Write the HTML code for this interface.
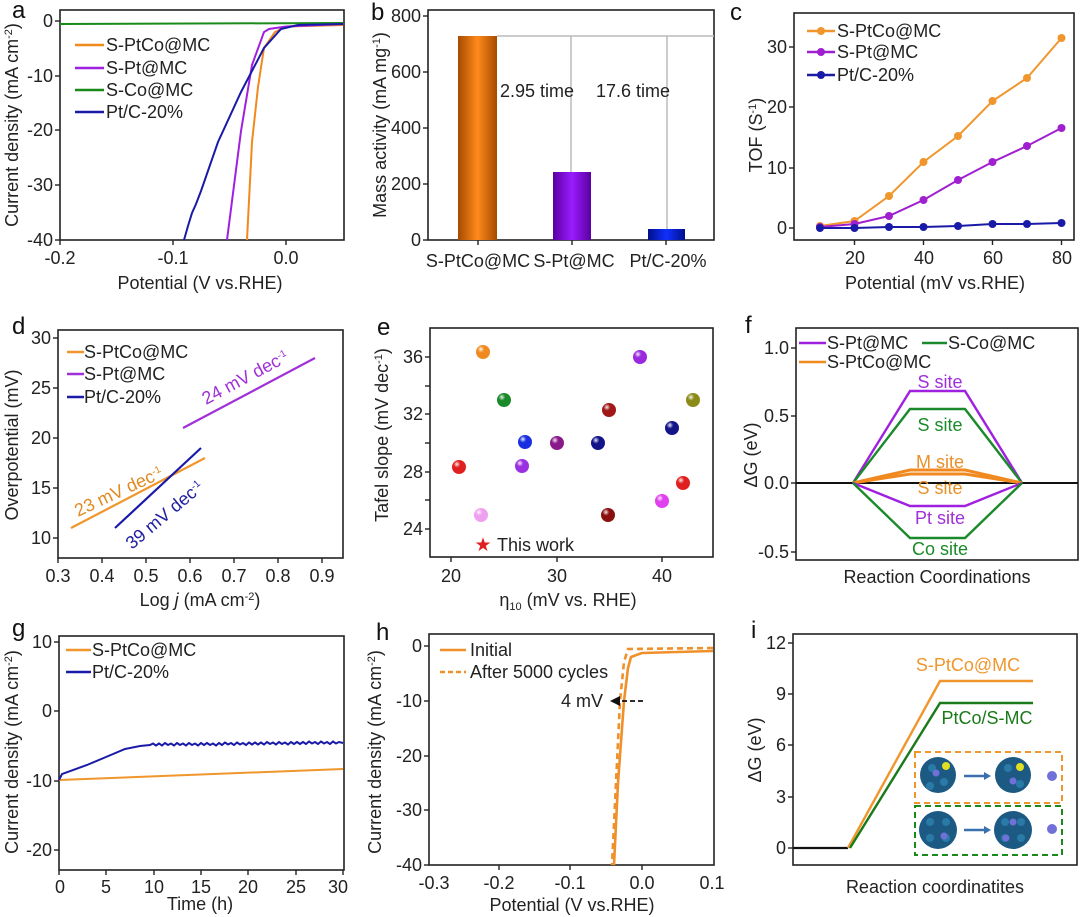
<!DOCTYPE html>
<html><head><meta charset="utf-8"><style>
html,body{margin:0;padding:0;background:#fff}
svg{display:block;font-family:"Liberation Sans",Arial,sans-serif}
.t{font-size:18px;fill:#222}
.ti{font-size:18px;fill:#222}
.lg{font-size:18px;fill:#222}
.pl{font-size:24px;fill:#111}
.ax{fill:none;stroke:#222;stroke-width:1.6}
.tk{stroke:#222;stroke-width:1.4}
</style></head><body>
<svg width="1080" height="917" viewBox="0 0 1080 917" xmlns="http://www.w3.org/2000/svg">
<defs>
<radialGradient id="sp" cx="0.35" cy="0.3" r="0.7"><stop offset="0" stop-color="#fff" stop-opacity="0.9"/><stop offset="0.35" stop-color="#fff" stop-opacity="0"/></radialGradient>
<linearGradient id="go" x1="0" x2="1"><stop offset="0" stop-color="#a54a00"/><stop offset="0.5" stop-color="#ff8a1a"/><stop offset="1" stop-color="#a54a00"/></linearGradient>
<linearGradient id="gp" x1="0" x2="1"><stop offset="0" stop-color="#5a00a0"/><stop offset="0.5" stop-color="#9a1cff"/><stop offset="1" stop-color="#5a00a0"/></linearGradient>
<linearGradient id="gb" x1="0" x2="1"><stop offset="0" stop-color="#00108a"/><stop offset="0.5" stop-color="#1030ff"/><stop offset="1" stop-color="#00108a"/></linearGradient>
</defs>

<!-- ========== a ========== -->
<text class="pl" x="12" y="18">a</text>
<rect class="ax" x="60" y="10" width="284" height="230"/>
<g class="tk"><line x1="55" y1="21" x2="60" y2="21"/><line x1="55" y1="76" x2="60" y2="76"/><line x1="55" y1="130" x2="60" y2="130"/><line x1="55" y1="185" x2="60" y2="185"/><line x1="55" y1="240" x2="60" y2="240"/>
<line x1="60" y1="240" x2="60" y2="245"/><line x1="173" y1="240" x2="173" y2="245"/><line x1="286" y1="240" x2="286" y2="245"/></g>
<g class="t" text-anchor="end"><text x="53" y="27">0</text><text x="53" y="82">-10</text><text x="53" y="136">-20</text><text x="53" y="191">-30</text><text x="53" y="246">-40</text></g>
<g class="t" text-anchor="middle"><text x="60" y="264">-0.2</text><text x="173" y="264">-0.1</text><text x="286" y="264">0.0</text></g>
<text class="ti" text-anchor="middle" x="200" y="289">Potential (V vs.RHE)</text>
<text class="ti" text-anchor="middle" transform="translate(18,125) rotate(-90)">Current density (mA cm<tspan dy="-6" font-size="11">-2</tspan><tspan dy="6">)</tspan></text>
<line x1="60" y1="24" x2="343" y2="23" stroke="#1a8a1a" stroke-width="2"/>
<polyline fill="none" stroke="#f08a1c" stroke-width="2" points="343,25 286,26.5 275,32 264,48 258,87 252,142 247,240"/>
<polyline fill="none" stroke="#a020e0" stroke-width="2" points="343,24 286,26.5 269,29 264,32 252,65 241,131 227,240"/>
<polyline fill="none" stroke="#1a1aa8" stroke-width="2" points="343,24 298,25 281,29 264,48 241,92 218,142 201,191 196,204 192,213 188,226 184,240"/>
<g stroke-width="2.5"><line x1="75" y1="45" x2="104" y2="45" stroke="#f08a1c"/><line x1="75" y1="68" x2="104" y2="68" stroke="#a020e0"/><line x1="75" y1="90" x2="104" y2="90" stroke="#1a8a1a"/><line x1="75" y1="112" x2="104" y2="112" stroke="#1a1aa8"/></g>
<g class="lg"><text x="106" y="51">S-PtCo@MC</text><text x="106" y="74">S-Pt@MC</text><text x="106" y="96">S-Co@MC</text><text x="106" y="118">Pt/C-20%</text></g>

<!-- ========== b ========== -->
<text class="pl" x="371" y="20">b</text>
<rect class="ax" x="428" y="10" width="286" height="230"/>
<g class="tk"><line x1="423" y1="16" x2="428" y2="16"/><line x1="423" y1="72" x2="428" y2="72"/><line x1="423" y1="128" x2="428" y2="128"/><line x1="423" y1="184" x2="428" y2="184"/><line x1="423" y1="240" x2="428" y2="240"/>
<line x1="478" y1="240" x2="478" y2="245"/><line x1="572" y1="240" x2="572" y2="245"/><line x1="666" y1="240" x2="666" y2="245"/></g>
<g class="t" text-anchor="end"><text x="421" y="22">800</text><text x="421" y="78">600</text><text x="421" y="134">400</text><text x="421" y="190">200</text><text x="421" y="246">0</text></g>
<g class="t" text-anchor="middle"><text x="478" y="267">S-PtCo@MC</text><text x="574" y="267">S-Pt@MC</text><text x="668" y="267">Pt/C-20%</text></g>
<text class="ti" text-anchor="middle" transform="translate(386,125) rotate(-90)">Mass activity (mA mg<tspan dy="-6" font-size="11">-1</tspan><tspan dy="6">)</tspan></text>
<g stroke="#bbb" stroke-width="1.5"><line x1="497" y1="36" x2="714" y2="36"/><line x1="571" y1="36" x2="571" y2="172"/><line x1="667" y1="36" x2="667" y2="229"/></g>
<rect x="458" y="36" width="39" height="204" fill="url(#go)"/>
<rect x="553" y="172" width="38" height="68" fill="url(#gp)"/>
<rect x="648" y="229" width="37" height="11" fill="url(#gb)"/>
<g class="t"><text x="500" y="97">2.95 time</text><text x="596" y="97">17.6 time</text></g>

<!-- ========== c ========== -->
<text class="pl" x="730" y="20">c</text>
<rect class="ax" x="794" y="13" width="280" height="227"/>
<g class="tk"><line x1="789" y1="228" x2="794" y2="228"/><line x1="789" y1="168" x2="794" y2="168"/><line x1="789" y1="107" x2="794" y2="107"/><line x1="789" y1="47" x2="794" y2="47"/>
<line x1="854.5" y1="240" x2="854.5" y2="245"/><line x1="923.5" y1="240" x2="923.5" y2="245"/><line x1="992.5" y1="240" x2="992.5" y2="245"/><line x1="1061.5" y1="240" x2="1061.5" y2="245"/></g>
<g class="t" text-anchor="end"><text x="787" y="234">0</text><text x="787" y="174">10</text><text x="787" y="113">20</text><text x="787" y="53">30</text></g>
<g class="t" text-anchor="middle"><text x="855" y="264">20</text><text x="924" y="264">40</text><text x="993" y="264">60</text><text x="1062" y="264">80</text></g>
<text class="ti" text-anchor="middle" x="935" y="289">Potential (mV vs.RHE)</text>
<text class="ti" text-anchor="middle" transform="translate(762,135) rotate(-90)">TOF (S<tspan dy="-6" font-size="11">-1</tspan><tspan dy="6">)</tspan></text>
<g fill="none" stroke-width="2">
<polyline stroke="#f0962c" points="820,226 854.5,221 889,196 923.5,162 958,136 992.5,101 1027,78 1061.5,38"/>
<polyline stroke="#a020d0" points="820,227 854.5,224 889,216 923.5,200 958,180 992.5,162 1027,146 1061.5,128"/>
<polyline stroke="#1a1aa8" points="820,228 854.5,228 889,227 923.5,227 958,226 992.5,224 1027,224 1061.5,223"/></g>
<g fill="#f0962c"><circle cx="820" cy="226" r="4"/><circle cx="854.5" cy="221" r="4"/><circle cx="889" cy="196" r="4"/><circle cx="923.5" cy="162" r="4"/><circle cx="958" cy="136" r="4"/><circle cx="992.5" cy="101" r="4"/><circle cx="1027" cy="78" r="4"/><circle cx="1061.5" cy="38" r="4"/><circle cx="821" cy="31" r="4"/></g>
<g fill="#a020d0"><circle cx="820" cy="227" r="4"/><circle cx="854.5" cy="224" r="4"/><circle cx="889" cy="216" r="4"/><circle cx="923.5" cy="200" r="4"/><circle cx="958" cy="180" r="4"/><circle cx="992.5" cy="162" r="4"/><circle cx="1027" cy="146" r="4"/><circle cx="1061.5" cy="128" r="4"/><circle cx="821" cy="52" r="4"/></g>
<g fill="#1a1aa8"><circle cx="820" cy="228" r="4"/><circle cx="854.5" cy="228" r="4"/><circle cx="889" cy="227" r="4"/><circle cx="923.5" cy="227" r="4"/><circle cx="958" cy="226" r="4"/><circle cx="992.5" cy="224" r="4"/><circle cx="1027" cy="224" r="4"/><circle cx="1061.5" cy="223" r="4"/><circle cx="821" cy="75" r="4"/></g>
<g stroke-width="2.5"><line x1="807" y1="31" x2="835" y2="31" stroke="#f0962c"/><line x1="807" y1="52" x2="835" y2="52" stroke="#a020d0"/><line x1="807" y1="75" x2="835" y2="75" stroke="#1a1aa8"/></g>
<g class="lg"><text x="837" y="37">S-PtCo@MC</text><text x="837" y="58">S-Pt@MC</text><text x="837" y="81">Pt/C-20%</text></g>

<!-- ========== d ========== -->
<text class="pl" x="12" y="334">d</text>
<rect class="ax" x="58" y="330" width="285" height="228"/>
<g class="tk"><line x1="53" y1="338" x2="58" y2="338"/><line x1="53" y1="388" x2="58" y2="388"/><line x1="53" y1="438" x2="58" y2="438"/><line x1="53" y1="488" x2="58" y2="488"/><line x1="53" y1="538" x2="58" y2="538"/>
<line x1="58" y1="558" x2="58" y2="563"/><line x1="102" y1="558" x2="102" y2="563"/><line x1="146" y1="558" x2="146" y2="563"/><line x1="190" y1="558" x2="190" y2="563"/><line x1="234" y1="558" x2="234" y2="563"/><line x1="278" y1="558" x2="278" y2="563"/><line x1="322" y1="558" x2="322" y2="563"/></g>
<g class="t" text-anchor="end"><text x="51" y="344">30</text><text x="51" y="394">25</text><text x="51" y="444">20</text><text x="51" y="494">15</text><text x="51" y="544">10</text></g>
<g class="t" text-anchor="middle"><text x="58" y="582">0.3</text><text x="102" y="582">0.4</text><text x="146" y="582">0.5</text><text x="190" y="582">0.6</text><text x="234" y="582">0.7</text><text x="278" y="582">0.8</text><text x="322" y="582">0.9</text></g>
<text class="ti" text-anchor="middle" x="200" y="606">Log <tspan font-style="italic">j</tspan> (mA cm<tspan dy="-6" font-size="11">-2</tspan><tspan dy="6">)</tspan></text>
<text class="ti" text-anchor="middle" transform="translate(18,445) rotate(-90)">Overpotential (mV)</text>
<g stroke-width="2.2"><line x1="71" y1="528" x2="205" y2="458" stroke="#f0962c"/><line x1="183" y1="428" x2="315" y2="358" stroke="#a030d8"/><line x1="115" y1="528" x2="201" y2="448" stroke="#1a1aa8"/></g>
<g stroke-width="2.5"><line x1="67" y1="352" x2="84" y2="352" stroke="#f0962c"/><line x1="67" y1="374" x2="84" y2="374" stroke="#a030d8"/><line x1="67" y1="397" x2="84" y2="397" stroke="#1a1aa8"/></g>
<g class="lg"><text x="84" y="358">S-PtCo@MC</text><text x="84" y="380">S-Pt@MC</text><text x="84" y="403">Pt/C-20%</text></g>
<text class="lg" style="fill:#a030d8" transform="translate(206,405) rotate(-28)">24 mV dec<tspan dy="-6" font-size="10">-1</tspan></text>
<text class="lg" style="fill:#e08a20" transform="translate(78,517) rotate(-25)">23 mV dec<tspan dy="-6" font-size="10">-1</tspan></text>
<text class="lg" style="fill:#2020a0" transform="translate(132,550) rotate(-40)">39 mV dec<tspan dy="-6" font-size="10">-1</tspan></text>

<!-- ========== e ========== -->
<text class="pl" x="377" y="335">e</text>
<rect class="ax" x="430" y="328" width="283" height="229"/>
<g class="tk"><line x1="425" y1="357" x2="430" y2="357"/><line x1="425" y1="386" x2="430" y2="386"/><line x1="425" y1="414" x2="430" y2="414"/><line x1="425" y1="443" x2="430" y2="443"/><line x1="425" y1="472" x2="430" y2="472"/><line x1="425" y1="500" x2="430" y2="500"/><line x1="425" y1="529" x2="430" y2="529"/>
<line x1="451" y1="557" x2="451" y2="562"/><line x1="557" y1="557" x2="557" y2="562"/><line x1="662" y1="557" x2="662" y2="562"/></g>
<g class="t" text-anchor="end"><text x="423" y="363">36</text><text x="423" y="420">32</text><text x="423" y="478">28</text><text x="423" y="535">24</text></g>
<g class="t" text-anchor="middle"><text x="451" y="582">20</text><text x="557" y="582">30</text><text x="662" y="582">40</text></g>
<text class="ti" text-anchor="middle" x="568" y="606">η<tspan dy="4" font-size="11">10</tspan><tspan dy="-4"> (mV vs. RHE)</tspan></text>
<text class="ti" text-anchor="middle" transform="translate(388,435) rotate(-90)">Tafel slope (mV dec<tspan dy="-6" font-size="11">-1</tspan><tspan dy="6">)</tspan></text>
<g>
<circle cx="483" cy="352" r="7" fill="#f08a20"/><circle cx="504" cy="400" r="7" fill="#1a8a2a"/><circle cx="525" cy="442" r="7" fill="#1a30e0"/><circle cx="557" cy="443" r="7" fill="#8a1a8a"/><circle cx="598" cy="443" r="7" fill="#14148a"/><circle cx="609" cy="410" r="7" fill="#a01818"/><circle cx="640" cy="357" r="7" fill="#9a2ae0"/><circle cx="693" cy="400" r="7" fill="#8a8a18"/><circle cx="672" cy="428" r="7" fill="#14148a"/><circle cx="459" cy="467" r="7" fill="#e02020"/><circle cx="522" cy="466" r="7" fill="#9a30e0"/><circle cx="481" cy="515" r="7" fill="#f0a0f0"/><circle cx="608" cy="515" r="7" fill="#8a1010"/><circle cx="662" cy="501" r="7" fill="#e040f0"/><circle cx="683" cy="483" r="7" fill="#e02020"/>
</g>
<g fill="url(#sp)"><circle cx="483" cy="352" r="7"/><circle cx="504" cy="400" r="7"/><circle cx="525" cy="442" r="7"/><circle cx="557" cy="443" r="7"/><circle cx="598" cy="443" r="7"/><circle cx="609" cy="410" r="7"/><circle cx="640" cy="357" r="7"/><circle cx="693" cy="400" r="7"/><circle cx="672" cy="428" r="7"/><circle cx="459" cy="467" r="7"/><circle cx="522" cy="466" r="7"/><circle cx="481" cy="515" r="7"/><circle cx="608" cy="515" r="7"/><circle cx="662" cy="501" r="7"/><circle cx="683" cy="483" r="7"/></g>
<text x="483" y="551" text-anchor="middle" font-size="19" fill="#e02020">★</text>
<text class="lg" x="497" y="551">This work</text>

<!-- ========== f ========== -->
<text class="pl" x="745" y="333">f</text>
<rect class="ax" x="796" y="328" width="282" height="232"/>
<g class="tk"><line x1="791" y1="348" x2="796" y2="348"/><line x1="791" y1="416" x2="796" y2="416"/><line x1="791" y1="483" x2="796" y2="483"/><line x1="791" y1="552" x2="796" y2="552"/></g>
<g class="t" text-anchor="end"><text x="789" y="354">1.0</text><text x="789" y="422">0.5</text><text x="789" y="489">0.0</text><text x="789" y="558">-0.5</text></g>
<text class="ti" text-anchor="middle" x="937" y="583">Reaction Coordinations</text>
<text class="ti" text-anchor="middle" transform="translate(757,455) rotate(-90)">ΔG (eV)</text>
<line x1="796" y1="483" x2="1078" y2="483" stroke="#111" stroke-width="2"/>
<g fill="none" stroke-width="2.4">
<polyline stroke="#a020e0" points="853,483 910,391 965,391 1022,483"/>
<polyline stroke="#1a8a2a" points="853,483 910,409 965,409 1022,483"/>
<polyline stroke="#f08a20" stroke-width="3" points="853,483 910,470 965,470 1022,483"/>
<polyline stroke="#f08a20" stroke-width="3" points="853,483 910,474 965,474 1022,483"/>
<polyline stroke="#a020e0" points="853,483 910,506 965,506 1022,483"/>
<polyline stroke="#1a8a2a" points="853,483 910,538 965,538 1022,483"/></g>
<g stroke-width="2.5"><line x1="799" y1="343" x2="826" y2="343" stroke="#a020e0"/><line x1="922" y1="343" x2="947" y2="343" stroke="#1a8a2a"/><line x1="799" y1="362" x2="826" y2="362" stroke="#f08a20"/></g>
<g class="lg"><text x="827" y="349">S-Pt@MC</text><text x="948" y="349">S-Co@MC</text><text x="827" y="368">S-PtCo@MC</text></g>
<g class="lg" text-anchor="middle"><text x="940" y="388" style="fill:#a030d8">S site</text><text x="940" y="431" style="fill:#1a8a2a">S site</text><text x="940" y="468" style="fill:#e8902a">M site</text><text x="940" y="494" style="fill:#e8902a">S site</text><text x="940" y="524" style="fill:#a030d8">Pt site</text><text x="940" y="555" style="fill:#1a8a2a">Co site</text></g>

<!-- ========== g ========== -->
<text class="pl" x="12" y="636">g</text>
<rect class="ax" x="59" y="636" width="285" height="234"/>
<g class="tk"><line x1="54" y1="642" x2="59" y2="642"/><line x1="54" y1="711" x2="59" y2="711"/><line x1="54" y1="781" x2="59" y2="781"/><line x1="54" y1="850" x2="59" y2="850"/>
<line x1="59" y1="870" x2="59" y2="875"/><line x1="106" y1="870" x2="106" y2="875"/><line x1="154" y1="870" x2="154" y2="875"/><line x1="201" y1="870" x2="201" y2="875"/><line x1="248" y1="870" x2="248" y2="875"/><line x1="296" y1="870" x2="296" y2="875"/><line x1="343" y1="870" x2="343" y2="875"/></g>
<g class="t" text-anchor="end"><text x="52" y="648">10</text><text x="52" y="717">0</text><text x="52" y="787">-10</text><text x="52" y="856">-20</text></g>
<g class="t" text-anchor="middle"><text x="60" y="893">0</text><text x="106" y="893">5</text><text x="154" y="893">10</text><text x="201" y="893">15</text><text x="248" y="893">20</text><text x="296" y="893">25</text><text x="338" y="893">30</text></g>
<text class="ti" text-anchor="middle" x="200" y="910">Time (h)</text>
<text class="ti" text-anchor="middle" transform="translate(18,752) rotate(-90)">Current density (mA cm<tspan dy="-6" font-size="11">-2</tspan><tspan dy="6">)</tspan></text>
<polyline fill="none" stroke="#f0962c" stroke-width="2" points="59,780 343,769"/>
<polyline fill="none" stroke="#1a1aa8" stroke-width="2" points="59,780 62,774 87,765 106,757 125,749 140,746 150,745 153,743.5 156,745.5 159,743.5 162,745.5 165,743 168,745 171,743.5 174,745.5 177,743 180,745 183,743.5 186,745.5 189,743 192,745 195,743.5 198,745.5 201,743 204,745 207,743 210,745 213,743.5 216,745.5 219,743 222,745 225,742.5 228,744.5 231,743 234,745 237,742.5 240,744.5 243,743 246,745 249,742.5 252,744.5 255,742.5 258,744.5 261,742.5 264,744.5 267,742 270,744 273,742.5 276,744.5 279,742 282,744 285,742.5 288,744.5 291,742 294,744 297,742 300,744 303,742 306,744 309,741.5 312,743.5 315,742 318,744 321,741.5 324,743.5 327,742 330,744 333,741.5 336,743.5 339,742 343,743"/>
<g stroke-width="2.5"><line x1="66" y1="650" x2="91" y2="650" stroke="#f0962c"/><line x1="66" y1="672" x2="91" y2="672" stroke="#1a1aa8"/></g>
<g class="lg"><text x="92" y="656">S-PtCo@MC</text><text x="92" y="678">Pt/C-20%</text></g>

<!-- ========== h ========== -->
<text class="pl" x="376" y="640">h</text>
<rect class="ax" x="429" y="634" width="285" height="231"/>
<g class="tk"><line x1="424" y1="646" x2="429" y2="646"/><line x1="424" y1="701" x2="429" y2="701"/><line x1="424" y1="756" x2="429" y2="756"/><line x1="424" y1="810" x2="429" y2="810"/><line x1="424" y1="865" x2="429" y2="865"/>
<line x1="499" y1="865" x2="499" y2="870"/><line x1="570" y1="865" x2="570" y2="870"/><line x1="642" y1="865" x2="642" y2="870"/></g>
<g class="t" text-anchor="end"><text x="422" y="652">0</text><text x="422" y="707">-10</text><text x="422" y="762">-20</text><text x="422" y="816">-30</text><text x="422" y="871">-40</text></g>
<g class="t" text-anchor="middle"><text x="434" y="889">-0.3</text><text x="499" y="889">-0.2</text><text x="570" y="889">-0.1</text><text x="642" y="889">0.0</text><text x="712" y="889">0.1</text></g>
<text class="ti" text-anchor="middle" x="572" y="911">Potential (V vs.RHE)</text>
<text class="ti" text-anchor="middle" transform="translate(381,752) rotate(-90)">Current density (mA cm<tspan dy="-6" font-size="11">-2</tspan><tspan dy="6">)</tspan></text>
<polyline fill="none" stroke="#f0902a" stroke-width="2.6" points="713,651 642,653 631,657 628,668 624,701 618,783 614,865"/>
<polyline fill="none" stroke="#f0902a" stroke-width="2.6" stroke-dasharray="6,4" points="713,648 628,649 624,662 620,701 612,865"/>
<line x1="643" y1="701" x2="618" y2="701" stroke="#111" stroke-width="1.8" stroke-dasharray="5,3"/>
<polygon points="610,701 620,696 620,706" fill="#111"/>
<text class="lg" x="603" y="707" text-anchor="end">4 mV</text>
<line x1="440" y1="650" x2="466" y2="650" stroke="#f0902a" stroke-width="2.6"/>
<line x1="440" y1="672" x2="466" y2="672" stroke="#f0902a" stroke-width="2.6" stroke-dasharray="5,3"/>
<g class="lg"><text x="470" y="656">Initial</text><text x="470" y="678">After 5000 cycles</text></g>

<!-- ========== i ========== -->
<text class="pl" x="751" y="638">i</text>
<rect class="ax" x="793" y="634" width="284" height="231"/>
<g class="tk"><line x1="788" y1="643" x2="793" y2="643"/><line x1="788" y1="694" x2="793" y2="694"/><line x1="788" y1="745" x2="793" y2="745"/><line x1="788" y1="797" x2="793" y2="797"/><line x1="788" y1="848" x2="793" y2="848"/></g>
<g class="t" text-anchor="end"><text x="786" y="649">12</text><text x="786" y="700">9</text><text x="786" y="751">6</text><text x="786" y="803">3</text><text x="786" y="854">0</text></g>
<text class="ti" text-anchor="middle" x="935" y="893">Reaction coordinatites</text>
<text class="ti" text-anchor="middle" transform="translate(761,750) rotate(-90)">ΔG (eV)</text>
<line x1="793" y1="848" x2="848" y2="848" stroke="#111" stroke-width="2.2"/>
<polyline fill="none" stroke="#f0962c" stroke-width="2.4" points="848,848 940,681 1033,681"/>
<polyline fill="none" stroke="#1a7a1a" stroke-width="2.4" points="850,848 940,703 1033,703"/>
<text class="lg" x="968" y="671" text-anchor="middle" style="fill:#f0962c">S-PtCo@MC</text>
<text class="lg" x="987" y="724" text-anchor="middle" style="fill:#1a7a1a">PtCo/S-MC</text>
<rect x="915" y="752" width="147" height="51" fill="#fff" stroke="#f0962c" stroke-width="2" stroke-dasharray="6,4"/>
<rect x="915" y="806" width="147" height="49" fill="#fff" stroke="#1a8a1a" stroke-width="2" stroke-dasharray="6,4"/>
<g fill="#1c5a84">
<circle cx="938" cy="775" r="18"/><circle cx="1013" cy="775" r="18"/>
<circle cx="938" cy="830" r="19"/><circle cx="1013" cy="830" r="19"/></g>
<g fill="#2a7aa8"><circle cx="932" cy="768" r="4"/><circle cx="944" cy="782" r="4"/><circle cx="930" cy="786" r="4"/><circle cx="1008" cy="768" r="4"/><circle cx="1020" cy="784" r="4"/><circle cx="930" cy="822" r="4"/><circle cx="946" cy="822" r="4"/><circle cx="930" cy="838" r="4"/><circle cx="946" cy="838" r="4"/><circle cx="1005" cy="822" r="4"/><circle cx="1021" cy="822" r="4"/><circle cx="1005" cy="838" r="4"/><circle cx="1021" cy="838" r="4"/></g>
<circle cx="946" cy="766" r="4" fill="#e0e020"/><circle cx="1020" cy="767" r="4" fill="#e0e020"/>
<g fill="#7070d8"><circle cx="936" cy="773" r="3.5"/><circle cx="1013" cy="781" r="3.5"/><circle cx="1052" cy="776" r="5"/><circle cx="1052" cy="829" r="5"/><circle cx="944" cy="836" r="3.5"/><circle cx="1013" cy="822" r="3.5"/><circle cx="1006" cy="838" r="3.5"/></g>
<g stroke="#3a70b0" stroke-width="2.5"><line x1="964" y1="776" x2="985" y2="776"/><line x1="964" y1="830" x2="985" y2="830"/></g>
<polygon points="991,776 984,772 984,780" fill="#3a70b0"/><polygon points="991,830 984,826 984,834" fill="#3a70b0"/>
</svg>
</body></html>
